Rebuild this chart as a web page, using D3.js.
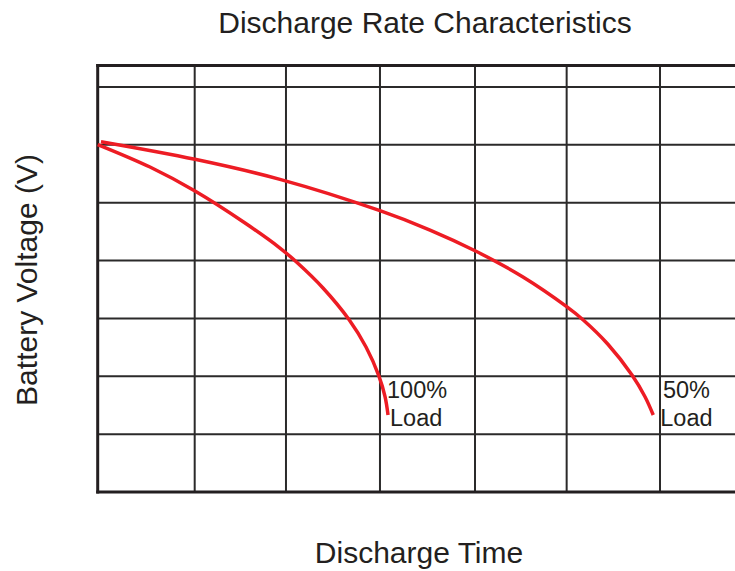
<!DOCTYPE html>
<html>
<head>
<meta charset="utf-8">
<script src="https://cdn.jsdelivr.net/npm/d3@7"></script>
<style>
  html, body { margin: 0; padding: 0; background: #fff; }
  svg { display: block; }
  text { font-family: "Liberation Sans", Arial, Helvetica, sans-serif; fill: #231f20; }
</style>
</head>
<body>
<script>
// Grid positions along the time axis (grid units) and along the voltage axis
const timeGrid = [1.035, 2.009, 3.012, 4.026, 5.004, 6, 7];
const voltGrid = [1, 2, 3, 4, 5, 6, 7];
const voltTop = 7.37;

// Discharge curves: time (grid units) vs. voltage (grid units)
const load100Time = [0, 0.558, 1.038, 1.572, 1.945, 2.127, 2.404, 2.681, 2.863, 2.999, 3.066, 3.098];
const load100Volt = [6.006, 5.617, 5.202, 4.649, 4.217, 3.966, 3.526, 2.981, 2.507, 2.013, 1.649, 1.331];

const load50Time = [0.035, 1.038, 1.945, 3.012, 3.546, 4.026, 4.538, 5.004, 5.181, 5.442, 5.701, 5.840, 5.928];
const load50Volt = [6.054, 5.750, 5.404, 4.862, 4.528, 4.170, 3.716, 3.203, 2.973, 2.558, 2.022, 1.647, 1.331];

// Curve labels: two lines each, with the time position of each line
const seriesLabels = [
  { lines: ["100%", "Load"], at: [3.087, 3.119] },
  { lines: ["50%", "Load"], at: [6.032, 6.003] }
];

const W = 735, H = 571;
const svg = d3.select("body").append("svg").attr("width", W).attr("height", H);

const x = d3.scaleLinear().domain([0, 6]).range([97.7, 660]);
const y = d3.scaleLinear().domain([0, 7]).range([492, 87]);

const gridColor = "#2b2a2a";

// vertical grid lines
svg.append("g").selectAll("line").data(timeGrid).join("line")
  .attr("x1", d => x(d)).attr("x2", d => x(d))
  .attr("y1", y(voltTop)).attr("y2", y(0))
  .attr("stroke", gridColor).attr("stroke-width", 2);

// horizontal grid lines
svg.append("g").selectAll("line").data(voltGrid).join("line")
  .attr("x1", x(0)).attr("x2", W)
  .attr("y1", d => y(d)).attr("y2", d => y(d))
  .attr("stroke", gridColor).attr("stroke-width", 2);

// frame: top, bottom and left edges
const frame = svg.append("g").attr("stroke", "#231f20").attr("stroke-width", 3);
frame.append("line").attr("x1", x(0) - 1.5).attr("x2", W).attr("y1", y(voltTop)).attr("y2", y(voltTop));
frame.append("line").attr("x1", x(0) - 1.5).attr("x2", W).attr("y1", y(0)).attr("y2", y(0));
frame.append("line").attr("x1", x(0)).attr("x2", x(0)).attr("y1", y(voltTop) - 1.5).attr("y2", y(0) + 1.5);

// discharge curves
const line = d3.line()
  .x(d => x(d[0])).y(d => y(d[1]))
  .curve(d3.curveCatmullRom.alpha(0.5));

const curves = [
  d3.zip(load100Time, load100Volt),
  d3.zip(load50Time, load50Volt)
];
svg.append("g").selectAll("path").data(curves).join("path")
  .attr("d", line)
  .attr("fill", "none")
  .attr("stroke", "#ed1c24")
  .attr("stroke-width", 3.5);

// curve labels
const lab = svg.append("g").selectAll("text").data(seriesLabels).join("text")
  .attr("font-size", 23.5);
lab.append("tspan")
  .attr("x", d => x(d.at[0]))
  .attr("y", 398)
  .text(d => d.lines[0]);
lab.append("tspan")
  .attr("x", d => x(d.at[1]))
  .attr("y", 425.5)
  .text(d => d.lines[1]);

// title and axis titles
svg.append("text")
  .attr("x", 425).attr("y", 32.5)
  .attr("text-anchor", "middle")
  .attr("font-size", 30)
  .text("Discharge Rate Characteristics");

svg.append("text")
  .attr("x", 419).attr("y", 563)
  .attr("text-anchor", "middle")
  .attr("font-size", 30)
  .text("Discharge Time");

svg.append("text")
  .attr("transform", "translate(37,280) rotate(-90)")
  .attr("text-anchor", "middle")
  .attr("font-size", 30)
  .text("Battery Voltage (V)");
</script>
</body>
</html>
